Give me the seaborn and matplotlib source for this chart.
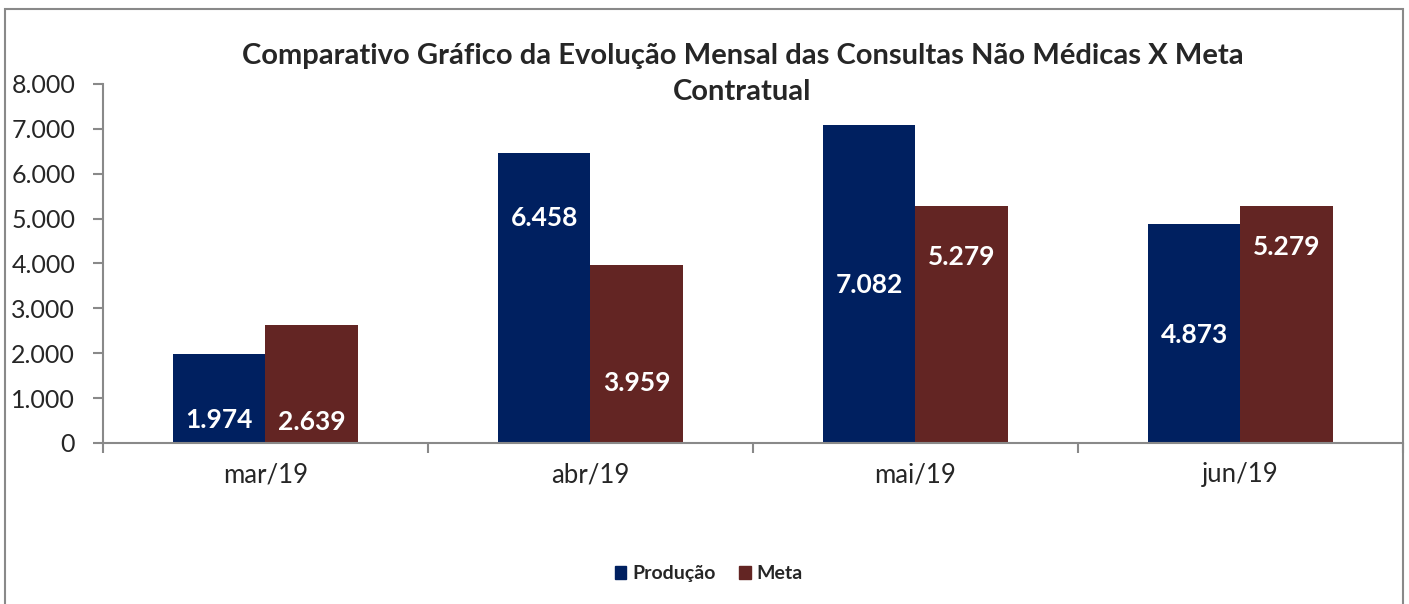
import matplotlib.pyplot as plt
import seaborn as sns
import pandas as pd
from matplotlib.patches import Rectangle

meses = ['mar/19', 'abr/19', 'mai/19', 'jun/19']
producao = [1974, 6458, 7082, 4873]
meta = [2639, 3959, 5279, 5279]
# where the value labels sit inside the bars (data units)
prod_label_y = [512, 5014, 3521, 2407]
meta_label_y = [468, 1337, 4145, 4368]

df = pd.DataFrame({
    'mes': meses * 2,
    'valor': producao + meta,
    'serie': ['Produção'] * 4 + ['Meta'] * 4,
})

sns.set_style('white')
plt.rcParams['font.family'] = ['Lato', 'DejaVu Sans']

cores = {'Produção': '#002060', 'Meta': '#632523'}

fig = plt.figure(figsize=(14.09, 6.04), dpi=100)
ax = fig.add_axes([0.0731, 0.2666, 0.9226, 0.5944])

sns.barplot(data=df, x='mes', y='valor', hue='serie', palette=cores,
            width=0.57, gap=0, saturation=1, linewidth=0, ax=ax, legend=False)

ax.set_ylim(0, 8000)
ax.set_xlim(-0.5, 3.5)
ax.set_yticks(range(0, 8001, 1000))
ax.set_yticklabels([f'{v:,}'.replace(',', '.') for v in range(0, 8001, 1000)])
ax.set_xlabel('')
ax.set_ylabel('')
ax.tick_params(axis='y', labelsize=18, length=7, width=1.5, color='#898989',
               direction='out', left=True, pad=13)
ax.tick_params(axis='x', labelsize=18.5, length=0, pad=14)
ax.set_xticks([-0.5, 0.5, 1.5, 2.5, 3.5], minor=True)
ax.tick_params(axis='x', which='minor', length=7, width=1.5, color='#898989',
               direction='out', bottom=True)

for s in ['top', 'right']:
    ax.spines[s].set_visible(False)
for s in ['left', 'bottom']:
    ax.spines[s].set_color('#898989')
    ax.spines[s].set_linewidth(1.5)

off = 0.57 / 4
for i in range(len(meses)):
    ax.text(i - off, prod_label_y[i], f'{producao[i]:,}'.replace(',', '.'),
            ha='center', va='center', color='white', fontsize=19, fontweight='bold')
    ax.text(i + off, meta_label_y[i], f'{meta[i]:,}'.replace(',', '.'),
            ha='center', va='center', color='white', fontsize=19, fontweight='bold')

fig.text(0.527, 0.908, 'Comparativo Gráfico da Evolução Mensal das Consultas Não Médicas X Meta',
         ha='center', va='center', fontsize=21, fontweight='bold')
fig.text(0.527, 0.847, 'Contratual', ha='center', va='center', fontsize=21, fontweight='bold')

handles = [Rectangle((0, 0), 1, 1, color=cores[k]) for k in ['Produção', 'Meta']]
fig.legend(handles, ['Produção', 'Meta'], loc='center', bbox_to_anchor=(0.503, 0.05),
           ncol=2, frameon=False, prop={'weight': 'bold', 'size': 14},
           handlelength=0.6, handleheight=0.6, handletextpad=0.3, columnspacing=1.2)

fig.patches.append(Rectangle((5 / 1409, -0.1), 1398 / 1409, 1.1 - 9 / 604,
                             transform=fig.transFigure, fill=False,
                             edgecolor='#898989', linewidth=1.5))

fig.savefig('out.png', dpi=100)
